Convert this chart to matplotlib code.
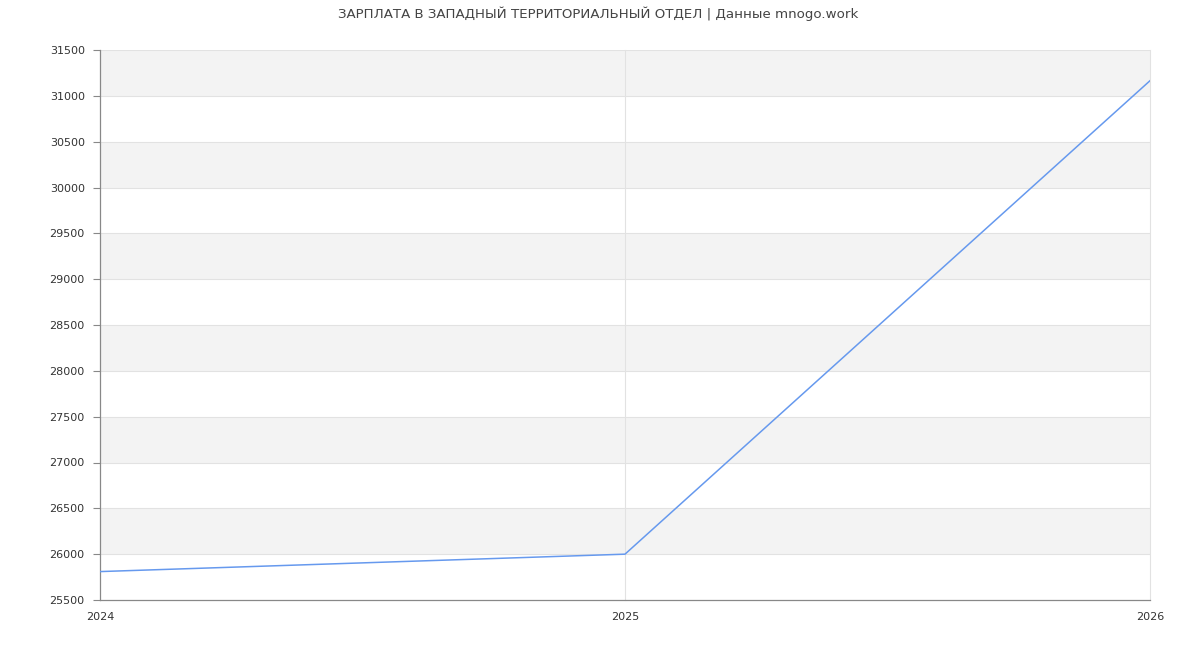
import matplotlib
matplotlib.use("Agg")
import matplotlib.pyplot as plt

TITLE = "ЗАРПЛАТА В ЗАПАДНЫЙ ТЕРРИТОРИАЛЬНЫЙ ОТДЕЛ | Данные mnogo.work"
YEARS = [2024, 2025, 2026]
SALARY = [25810, 26000, 31165]
Y_TICKS = list(range(25500, 31501, 500))

LINE = "#6699EE"
BAND = "#F3F3F3"
GRID = "#E2E2E2"
AXIS = "#888888"
TEXT = "#333333"

fig = plt.figure(figsize=(12, 6.5), dpi=100, facecolor="white")
ax = fig.add_axes([100 / 1200, 50 / 650, 1050 / 1200, 550 / 650])

ax.set_xlim(YEARS[0], YEARS[-1])
ax.set_ylim(Y_TICKS[0], Y_TICKS[-1])

# alternating horizontal bands
for lo, hi in zip(Y_TICKS[:-1], Y_TICKS[1:]):
    if (lo - Y_TICKS[0]) // 500 % 2 == 1:
        ax.axhspan(lo, hi, color=BAND, lw=0, zorder=0)

for y in Y_TICKS[1:]:
    ax.axhline(y, color=GRID, lw=0.8, zorder=1)
for x in YEARS[1:]:
    ax.axvline(x, color=GRID, lw=0.8, zorder=1, clip_on=False)

ax.plot(YEARS, SALARY, color=LINE, lw=1.1, zorder=3)

ax.set_xticks(YEARS)
ax.set_xticklabels([str(y) for y in YEARS])
ax.set_yticks(Y_TICKS)
ax.set_yticklabels([str(y) for y in Y_TICKS])
ax.tick_params(axis="y", length=5, width=0.8, color=AXIS, labelsize=8,
               labelcolor=TEXT, pad=6)
ax.tick_params(axis="x", length=0, labelsize=8, labelcolor=TEXT, pad=9)

for side in ("top", "right"):
    ax.spines[side].set_visible(False)
for side in ("left", "bottom"):
    ax.spines[side].set_color(AXIS)
    ax.spines[side].set_linewidth(0.9)

fig.text(598 / 1200, 1 - 14 / 650, TITLE, ha="center", va="center",
         fontsize=9.6, color="#444444")

fig.savefig("out.png", dpi=100, facecolor="white")
